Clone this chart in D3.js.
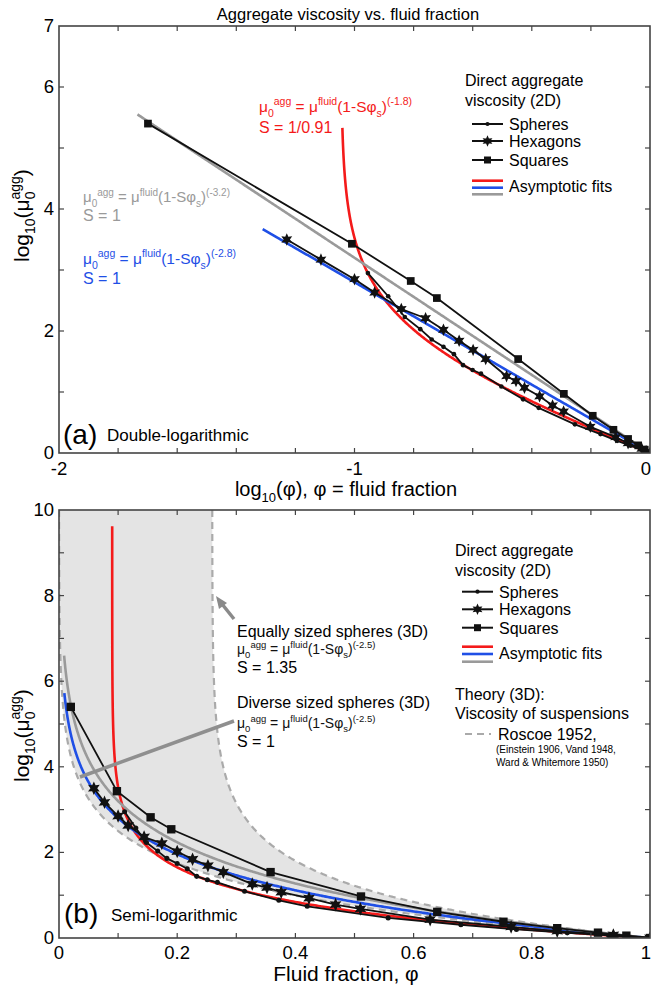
<!DOCTYPE html>
<html>
<head>
<meta charset="utf-8">
<script src="https://cdn.jsdelivr.net/npm/d3@7"></script>
<style>
  body { margin: 0; background: #fff; }
  svg { display: block; font-family: "Liberation Sans", Arial, sans-serif; }
</style>
</head>
<body>
<script>
// fluid fraction (phi) and log10 of aggregate viscosity for each shape
const spheresPhi   = [0.111, 0.13, 0.148, 0.167, 0.1825, 0.2, 0.217, 0.233, 0.251, 0.268, 0.314, 0.372, 0.42, 0.557, 0.68, 0.774, 0.86, 0.93, 1.0];
const spheresLogMu = [2.95, 2.57, 2.23, 2.03, 1.86, 1.74, 1.62, 1.44, 1.36, 1.30, 1.09, 0.88, 0.74, 0.47, 0.31, 0.20, 0.12, 0.06, 0];
const hexPhi   = [0.059, 0.077, 0.1, 0.117, 0.144, 0.174, 0.2, 0.226, 0.252, 0.278, 0.327, 0.352, 0.376, 0.423, 0.468, 0.51, 0.628, 0.765, 0.843, 0.938, 1.0];
const hexLogMu = [3.5, 3.17, 2.85, 2.63, 2.36, 2.21, 2.02, 1.84, 1.69, 1.54, 1.26, 1.18, 1.07, 0.93, 0.78, 0.68, 0.43, 0.26, 0.16, 0.07, 0];
const squaresPhi   = [0.02, 0.098, 0.155, 0.19, 0.358, 0.511, 0.64, 0.752, 0.843, 0.912, 0.96, 1.0];
const squaresLogMu = [5.4, 3.43, 2.82, 2.54, 1.54, 0.97, 0.61, 0.38, 0.23, 0.125, 0.055, 0];

// asymptotic fits mu = (1 - S*phi_s)^n  (red, blue, gray)
const fitExponent = [-1.8, -2.8, -3.2];
const fitS = [1 / 0.91, 1, 1];
const fitColors = ["#f41a1a", "#1f4fe6", "#9a9a9a"];
const fitTopMax = [5.33, 3.67, 5.55];    // highest log10(mu) drawn, panel a
const fitBottomMax = [9.62, 5.72, 6.6];  // panel b

// Roscoe 1952 band, mu = (1 - S*phi_s)^-2.5
const roscoeExponent = -2.5;
const roscoeS = [1, 1.35];

// tick values
const topXTicks = [-2, -1, 0];
const topYTicks = [0, 2, 4, 6, 7];
const botXTicks = [0, 0.2, 0.4, 0.6, 0.8, 1];
const botYTicks = [0, 2, 4, 6, 8, 10];

const svg = d3.select("body").append("svg").attr("width", 651).attr("height", 987);

const xA = d3.scaleLinear().domain([-2, 0]).range([59, 650]);
const yA = d3.scaleLinear().domain([0, 7]).range([453, 26]);
const xB = d3.scaleLinear().domain([0, 1]).range([59, 650]);
const yB = d3.scaleLinear().domain([0, 10]).range([938, 510]);

// phi where the fit reaches a given log10(mu)
function phiAt(logMu, n, S) {
  return 1 - (1 - Math.pow(10, logMu / n)) / S;
}
function fitCurve(n, S, maxLog) {
  const p0 = phiAt(maxLog, n, S);
  let pts = [];
  for (let i = 0; i <= 300; i++) {
    const lm = maxLog * (1 - i / 300);
    pts.push(phiAt(lm, n, S));
  }
  for (let i = 0; i <= 300; i++) pts.push(p0 + (1 - p0) * i / 300);
  pts.sort((a, b) => a - b);
  return pts.map(p => [p, n * Math.log10(1 - S * (1 - p))]);
}

// six pointed star for hexagon markers
const star6 = {
  draw(ctx, size) {
    const R = Math.sqrt(size) * 0.62, r = R * 0.5;
    for (let i = 0; i < 12; i++) {
      const a = i * Math.PI / 6 - Math.PI / 2, rr = i % 2 ? r : R;
      if (i === 0) ctx.moveTo(rr * Math.cos(a), rr * Math.sin(a));
      else ctx.lineTo(rr * Math.cos(a), rr * Math.sin(a));
    }
    ctx.closePath();
  }
};

// text with sub / superscripts
function rich(sel, parts, size, small) {
  let cur = 0;
  parts.forEach(p => {
    const t = p[0], m = p[1];
    const off = m === "sup" ? -0.42 * size : m === "sub" ? 0.3 * size : 0;
    const ts = sel.append("tspan").attr("dy", off - cur).attr("font-size", m ? (small || size * 0.7) : size).text(t);
    if (p[2]) ts.attr("dx", p[2]);
    cur = off;
  });
}
function formula(g, x, y, size, exp, color, small) {
  const t = g.append("text").attr("x", x).attr("y", y).attr("fill", color);
  rich(t, [["μ"], ["0", "sub"], ["agg", "sup"], [" = μ"], ["fluid", "sup"], ["(1-Sφ"], ["s", "sub"], [")"], ["(" + exp + ")", "sup"]], size, small);
}

const shapes = [
  { name: "Spheres", phi: spheresPhi, mu: spheresLogMu, sym: d3.symbolCircle, size: 20 },
  { name: "Hexagons", phi: hexPhi, mu: hexLogMu, sym: star6, size: 120 },
  { name: "Squares", phi: squaresPhi, mu: squaresLogMu, sym: d3.symbolSquare, size: 70 }
];

function panel(id, x, y, xOf, fitMax, sc) {
  const g = svg.append("g");
  g.append("clipPath").attr("id", id).append("rect")
    .attr("x", x.range()[0]).attr("y", y.range()[1])
    .attr("width", x.range()[1] - x.range()[0]).attr("height", y.range()[0] - y.range()[1]);
  const plot = g.append("g").attr("clip-path", `url(#${id})`);

  if (id === "clipB") {
    const lower = fitCurve(roscoeExponent, roscoeS[0], 10);
    const upper = fitCurve(roscoeExponent, roscoeS[1], 10);
    const band = upper.concat(lower.slice().reverse());
    plot.append("path").attr("d", d3.line().x(d => x(d[0])).y(d => y(d[1]))(band) + "Z")
      .attr("fill", "#e4e4e4");
    [lower, upper].forEach(c => plot.append("path")
      .attr("d", d3.line().x(d => x(d[0])).y(d => y(d[1]))(c))
      .attr("fill", "none").attr("stroke", "#aaa").attr("stroke-width", 2.2).attr("stroke-dasharray", "7,5"));
  }

  // asymptotic fits
  fitExponent.forEach((n, i) => {
    plot.append("path")
      .attr("d", d3.line().x(d => x(xOf(d[0]))).y(d => y(d[1]))(fitCurve(n, fitS[i], fitMax[i])))
      .attr("fill", "none").attr("stroke", fitColors[i]).attr("stroke-width", 2.6);
  });

  // data
  const line = d3.line().x(d => x(xOf(d[0]))).y(d => y(d[1]));
  shapes.forEach(s => {
    const pts = s.phi.map((p, i) => [p, s.mu[i]]);
    plot.append("path").attr("d", line(pts)).attr("fill", "none").attr("stroke", "#111").attr("stroke-width", 1.8);
    plot.selectAll(null).data(pts).join("path")
      .attr("transform", d => `translate(${x(xOf(d[0]))},${y(d[1])})`)
      .attr("d", d3.symbol(s.sym, s.size * sc))
      .attr("fill", "#111");
  });

  // frame
  g.append("rect").attr("x", x.range()[0]).attr("y", y.range()[1])
    .attr("width", x.range()[1] - x.range()[0]).attr("height", y.range()[0] - y.range()[1])
    .attr("fill", "none").attr("stroke", "#444").attr("stroke-width", 1.6);
  return g;
}

function ticks(g, x, y, xMinor, yMinor) {
  const t = g.append("g").attr("stroke", "#444").attr("stroke-width", 1.2);
  xMinor.forEach(v => {
    t.append("line").attr("x1", x(v)).attr("x2", x(v)).attr("y1", y.range()[0]).attr("y2", y.range()[0] - 5);
    t.append("line").attr("x1", x(v)).attr("x2", x(v)).attr("y1", y.range()[1]).attr("y2", y.range()[1] + 5);
  });
  yMinor.forEach(v => {
    t.append("line").attr("y1", y(v)).attr("y2", y(v)).attr("x1", x.range()[0]).attr("x2", x.range()[0] + 5);
    t.append("line").attr("y1", y(v)).attr("y2", y(v)).attr("x1", x.range()[1]).attr("x2", x.range()[1] - 5);
  });
}

// the last x label sits flush with the right edge, as in the original
function xLabels(g, x, vals, yy) {
  const last = vals[vals.length - 1];
  g.selectAll(null).data(vals).join("text")
    .attr("x", d => d === last ? 651 : x(d)).attr("y", yy)
    .attr("text-anchor", d => d === last ? "end" : "middle")
    .attr("font-size", 18.5).text(d => d);
}
function yLabels(g, y, vals) {
  g.selectAll(null).data(vals).join("text")
    .attr("x", 54).attr("y", d => y(d) + 6).attr("text-anchor", "end").attr("font-size", 18.5).text(d => d);
}

// ---------- panel (a) ----------
const A = panel("clipA", xA, yA, p => Math.log10(p), fitTopMax, 0.85);
ticks(A, xA, yA, d3.range(-1.8, -0.01, 0.2), d3.range(1, 7, 1));
xLabels(A, xA, topXTicks, 475);
yLabels(A, yA, topYTicks);

svg.append("text").attr("x", 348).attr("y", 19.5).attr("text-anchor", "middle").attr("font-size", 16.5)
  .text("Aggregate viscosity vs. fluid fraction");

const xlabA = svg.append("text").attr("x", 346).attr("y", 496).attr("text-anchor", "middle").attr("font-size", 20);
rich(xlabA, [["log"], ["10", "sub"], ["(φ), φ = fluid fraction"]], 20, 13);

function ylabel(x, y) {
  const t = svg.append("text").attr("transform", `translate(${x},${y}) rotate(-90)`).attr("font-size", 21);
  rich(t, [["log"], ["10", "sub"], ["(μ"], ["0", "sub"], ["agg", "sup", -8], [")"]], 21, 14);
}
ylabel(29, 262);
ylabel(29, 782);

svg.append("text").attr("x", 63).attr("y", 444).attr("font-size", 28).text("(a)");
svg.append("text").attr("x", 107).attr("y", 441).attr("font-size", 17).text("Double-logarithmic");

formula(svg, 259, 112, 15.5, "-1.8", fitColors[0], 10.5);
svg.append("text").attr("x", 259).attr("y", 133).attr("font-size", 16).attr("fill", fitColors[0]).text("S = 1/0.91");
formula(svg, 83, 202, 15, "-3.2", fitColors[2], 10);
svg.append("text").attr("x", 83).attr("y", 221).attr("font-size", 16).attr("fill", fitColors[2]).text("S = 1");
formula(svg, 83, 264, 15.5, "-2.8", fitColors[1], 10.5);
svg.append("text").attr("x", 83).attr("y", 284).attr("font-size", 16).attr("fill", fitColors[1]).text("S = 1");

function legend(x0, y0, lx1, lx2, tx, rows, fitYs, fitTextY) {
  svg.append("text").attr("x", x0).attr("y", y0).attr("font-size", 16).text("Direct aggregate");
  svg.append("text").attr("x", x0).attr("y", y0 + 20).attr("font-size", 16).text("viscosity (2D)");
  shapes.forEach((s, i) => {
    const yy = rows[i];
    svg.append("line").attr("x1", lx1).attr("x2", lx2).attr("y1", yy).attr("y2", yy).attr("stroke", "#111").attr("stroke-width", 2);
    svg.append("path").attr("transform", `translate(${(lx1 + lx2) / 2},${yy})`)
      .attr("d", d3.symbol(s.sym, s.size * 0.7)).attr("fill", "#111");
    svg.append("text").attr("x", tx).attr("y", yy + 6).attr("font-size", 16).text(s.name);
  });
  fitColors.forEach((c, i) => svg.append("line").attr("x1", lx1).attr("x2", lx2)
    .attr("y1", fitYs[i]).attr("y2", fitYs[i]).attr("stroke", c).attr("stroke-width", 2.6));
  svg.append("text").attr("x", tx).attr("y", fitTextY).attr("font-size", 16).text("Asymptotic fits");
}
legend(465, 86, 472, 503, 509, [124, 141, 160], [180.7, 187.7, 194.3], 192);

// ---------- panel (b) ----------
const B = panel("clipB", xB, yB, p => p, fitBottomMax, 1);
ticks(B, xB, yB, d3.range(0.1, 0.99, 0.1), d3.range(1, 10, 1));
xLabels(B, xB, botXTicks, 959);
yLabels(B, yB, botYTicks);

svg.append("text").attr("x", 346).attr("y", 981).attr("text-anchor", "middle").attr("font-size", 21)
  .text("Fluid fraction, φ");

svg.append("text").attr("x", 64).attr("y", 923).attr("font-size", 28).text("(b)");
svg.append("text").attr("x", 111).attr("y", 921).attr("font-size", 17).text("Semi-logarithmic");

// annotation arrows
svg.append("line").attr("x1", 234).attr("y1", 619).attr("x2", 222).attr("y2", 604)
  .attr("stroke", "#8a8a8a").attr("stroke-width", 3.5);
svg.append("path").attr("d", "M216,596 L227,603 L219,609 Z").attr("fill", "#8a8a8a");
svg.append("line").attr("x1", 234).attr("y1", 721).attr("x2", 80).attr("y2", 777)
  .attr("stroke", "#8f8f8f").attr("stroke-width", 3.5);

svg.append("text").attr("x", 237).attr("y", 637).attr("font-size", 16).text("Equally sized spheres (3D)");
formula(svg, 237, 654, 14, "-2.5", "#111", 9.5);
svg.append("text").attr("x", 237).attr("y", 673).attr("font-size", 16).text("S = 1.35");
svg.append("text").attr("x", 237).attr("y", 708).attr("font-size", 16).text("Diverse sized spheres (3D)");
formula(svg, 237, 728, 14, "-2.5", "#111", 9.5);
svg.append("text").attr("x", 237).attr("y", 747).attr("font-size", 16).text("S = 1");

legend(455, 556, 462, 493, 499, [591.7, 609.3, 627.7], [646.7, 654, 661.7], 658.5);
svg.append("text").attr("x", 455).attr("y", 700).attr("font-size", 16).text("Theory (3D):");
svg.append("text").attr("x", 455).attr("y", 719).attr("font-size", 16).text("Viscosity of suspensions");
svg.append("line").attr("x1", 465).attr("x2", 491).attr("y1", 734).attr("y2", 734)
  .attr("stroke", "#aaa").attr("stroke-width", 2.2).attr("stroke-dasharray", "7,5");
svg.append("text").attr("x", 498).attr("y", 740).attr("font-size", 16).text("Roscoe 1952,");
svg.append("text").attr("x", 496).attr("y", 753).attr("font-size", 10).text("(Einstein 1906, Vand 1948,");
svg.append("text").attr("x", 496).attr("y", 766).attr("font-size", 10).text("Ward & Whitemore 1950)");
</script>
</body>
</html>
